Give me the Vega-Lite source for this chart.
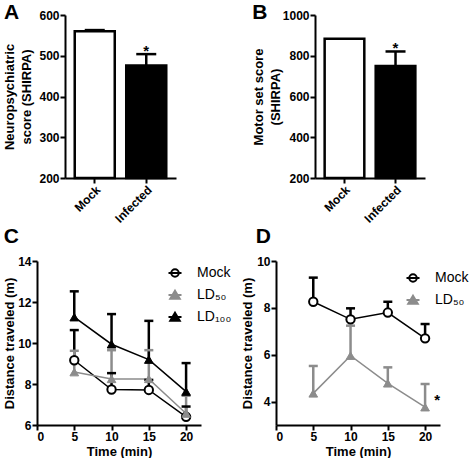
{
  "$schema": "https://vega.github.io/schema/vega-lite/v6.json",
  "padding": {"left": 2, "top": 2, "right": 0, "bottom": 0},
  "background": "white",
  "datasets": {
    "A": [
      {"cond": "Mock", "mean": 560, "upper": 563},
      {"cond": "Infected", "mean": 476, "upper": 504}
    ],
    "B": [
      {"cond": "Mock", "mean": 883, "upper": 885},
      {"cond": "Infected", "mean": 750, "upper": 821}
    ],
    "C": [
      {"group": "Mock", "time": 5, "mean": 9.16, "upper": 10.63},
      {"group": "Mock", "time": 10, "mean": 7.73, "upper": 8.53},
      {"group": "Mock", "time": 15, "mean": 7.71, "upper": 8.2},
      {"group": "Mock", "time": 20, "mean": 6.4, "upper": 6.9},
      {"group": "LD₅₀", "time": 5, "mean": 8.58, "upper": 9.62},
      {"group": "LD₅₀", "time": 10, "mean": 8.25, "upper": 9.65},
      {"group": "LD₅₀", "time": 15, "mean": 8.25, "upper": 9.65},
      {"group": "LD₅₀", "time": 20, "mean": 6.56, "upper": 7.43},
      {"group": "LD₁₀₀", "time": 5, "mean": 11.26, "upper": 12.52},
      {"group": "LD₁₀₀", "time": 10, "mean": 9.94, "upper": 11.41},
      {"group": "LD₁₀₀", "time": 15, "mean": 9.19, "upper": 11.08},
      {"group": "LD₁₀₀", "time": 20, "mean": 7.63, "upper": 9.02}
    ],
    "D": [
      {"group": "Mock", "time": 5, "mean": 8.26, "upper": 9.29},
      {"group": "Mock", "time": 10, "mean": 7.51, "upper": 7.98},
      {"group": "Mock", "time": 15, "mean": 7.8, "upper": 8.26},
      {"group": "Mock", "time": 20, "mean": 6.7, "upper": 7.31},
      {"group": "LD₅₀", "time": 5, "mean": 4.35, "upper": 5.52},
      {"group": "LD₅₀", "time": 10, "mean": 5.96, "upper": 7.24},
      {"group": "LD₅₀", "time": 15, "mean": 4.78, "upper": 5.46},
      {"group": "LD₅₀", "time": 20, "mean": 3.76, "upper": 4.75}
    ]
  },
  "vconcat": [
    {
      "hconcat": [
        {"width": 1, "height": 1, "data": {"name": "A"}, "mark": {"type": "text", "text": ""}, "encoding": {}},
        {
          "hconcat": [
            {
              "width": 111, "height": 163,
              "title": {"text": "A", "offset": -14},
              "data": {"name": "A"},
              "encoding": {
                "x": {"field": "cond", "type": "nominal", "sort": ["Mock", "Infected"],
                      "scale": {"paddingInner": 0.223, "paddingOuter": 0.189},
                      "axis": {"title": null, "labelAngle": -45}}
              },
              "layer": [
                {"mark": {"type": "bar", "stroke": "black", "strokeWidth": 2.5},
                 "encoding": {
                   "y": {"field": "mean", "type": "quantitative", "scale": {"domain": [200, 600]},
                         "axis": {"title": ["Neuropsychiatric", "score (SHIRPA)"], "values": [200, 300, 400, 500, 600], "titlePadding": 5, "titleLineHeight": 17}},
                   "y2": {"datum": 200},
                   "fill": {"field": "cond", "type": "nominal", "scale": {"domain": ["Mock", "Infected"], "range": ["white", "black"]}, "legend": null}
                 }},
                {"mark": {"type": "rule", "strokeWidth": 2.5, "color": "black"},
                 "encoding": {"y": {"field": "mean", "type": "quantitative"}, "y2": {"field": "upper"}}},
                {"mark": {"type": "tick", "orient": "horizontal", "thickness": 2.5, "size": 20, "color": "black", "opacity": 1},
                 "encoding": {"y": {"field": "upper", "type": "quantitative"}}},
                {"transform": [{"filter": "datum.cond === 'Infected'"}],
                 "mark": {"type": "text", "text": "*", "dy": 2, "fontSize": 15, "fontWeight": "bold", "baseline": "alphabetic", "color": "black"},
                 "encoding": {"y": {"field": "upper", "type": "quantitative"}}}
              ]
            },
            {
              "width": 110, "height": 163,
              "title": {"text": "B", "offset": -14},
              "data": {"name": "B"},
              "encoding": {
                "x": {"field": "cond", "type": "nominal", "sort": ["Mock", "Infected"],
                      "scale": {"paddingInner": 0.223, "paddingOuter": 0.189},
                      "axis": {"title": null, "labelAngle": -45}}
              },
              "layer": [
                {"mark": {"type": "bar", "stroke": "black", "strokeWidth": 2.5},
                 "encoding": {
                   "y": {"field": "mean", "type": "quantitative", "scale": {"domain": [200, 1000]},
                         "axis": {"title": ["Motor set score", "(SHIRPA)"], "values": [200, 400, 600, 800, 1000], "format": "d", "titlePadding": 0, "titleLineHeight": 17}},
                   "y2": {"datum": 200},
                   "fill": {"field": "cond", "type": "nominal", "scale": {"domain": ["Mock", "Infected"], "range": ["white", "black"]}, "legend": null}
                 }},
                {"transform": [{"filter": "datum.cond === 'Infected'"}],
                 "mark": {"type": "rule", "strokeWidth": 2.5, "color": "black"},
                 "encoding": {"y": {"field": "mean", "type": "quantitative"}, "y2": {"field": "upper"}}},
                {"transform": [{"filter": "datum.cond === 'Infected'"}],
                 "mark": {"type": "tick", "orient": "horizontal", "thickness": 2.5, "size": 20, "color": "black", "opacity": 1},
                 "encoding": {"y": {"field": "upper", "type": "quantitative"}}},
                {"transform": [{"filter": "datum.cond === 'Infected'"}],
                 "mark": {"type": "text", "text": "*", "dy": 2, "fontSize": 15, "fontWeight": "bold", "baseline": "alphabetic", "color": "black"},
                 "encoding": {"y": {"field": "upper", "type": "quantitative"}}}
              ]
            }
          ],
          "spacing": 76,
          "resolve": {"scale": {"fill": "independent"}, "legend": {"fill": "independent"}}
        }
      ],
      "spacing": 0,
      "resolve": {"scale": {"fill": "independent"}, "legend": {"fill": "independent"}}
    },
    {
      "hconcat": [
        {"width": 1, "height": 1, "data": {"name": "C"}, "mark": {"type": "text", "text": ""}, "encoding": {}},
        {
          "hconcat": [
            {
              "width": 164, "height": 164,
              "title": {"text": "C", "offset": 8},
              "data": {"name": "C"},
              "encoding": {
                "x": {"field": "time", "type": "quantitative", "scale": {"domain": [0, 22]},
                      "axis": {"title": "Time (min)", "values": [0, 5, 10, 15, 20], "titlePadding": 3}},
                "y": {"field": "mean", "type": "quantitative", "scale": {"domain": [6, 14]},
                      "axis": {"title": "Distance traveled (m)", "values": [6, 8, 10, 12, 14], "titlePadding": 1}}
              },
              "layer": [
                {"mark": {"type": "line", "strokeWidth": 1.5},
                 "encoding": {
                   "color": {"field": "group", "type": "nominal",
                             "scale": {"domain": ["LD₁₀₀", "LD₅₀", "Mock"], "range": ["black", "#8c8c8c", "black"]},
                             "legend": null}
                 }},
                {"mark": {"type": "rule", "strokeWidth": 2.5},
                 "encoding": {"y2": {"field": "upper"}, "color": {"field": "group", "type": "nominal"}}},
                {"mark": {"type": "tick", "orient": "horizontal", "thickness": 2.5, "size": 9, "opacity": 1},
                 "encoding": {"y": {"field": "upper", "type": "quantitative"}, "color": {"field": "group", "type": "nominal"}}},
                {"transform": [{"filter": "datum.group === 'Mock'"}],
                 "mark": {"type": "point", "shape": "circle", "size": 70, "strokeWidth": 2, "filled": false, "fill": "white", "stroke": "black", "opacity": 1}},
                {"transform": [{"filter": "datum.group === 'LD₅₀'"}],
                 "mark": {"type": "point", "shape": "triangle-up", "size": 75, "strokeWidth": 1, "filled": true, "fill": "#8c8c8c", "stroke": "#8c8c8c", "opacity": 1}},
                {"transform": [{"filter": "datum.group === 'LD₁₀₀'"}],
                 "mark": {"type": "point", "shape": "triangle-up", "size": 75, "strokeWidth": 1, "filled": true, "fill": "black", "stroke": "black", "opacity": 1}},
                {"transform": [{"filter": "false"}],
                 "mark": {"type": "point", "size": 100, "strokeWidth": 2, "filled": true, "opacity": 1},
                 "encoding": {
                   "shape": {"field": "group", "type": "nominal",
                             "scale": {"domain": ["Mock", "LD₅₀", "LD₁₀₀"], "range": ["M-1.3,0H1.3M0.75,0A0.75,0.75,0,1,1,-0.75,0A0.75,0.75,0,1,1,0.75,0Z", "M-1.3,0H1.3M0,-0.85L0.95,0.75L-0.95,0.75Z", "M-1.3,0H1.3M0,-0.85L0.95,0.75L-0.95,0.75Z"]},
                             "legend": {"orient": "none", "legendX": 131, "legendY": 5, "title": null, "padding": 0, "labelFont": "Liberation Sans", "labelFontSize": 14, "labelColor": "black", "rowPadding": 5, "labelOffset": 15, "symbolStrokeWidth": 2, "symbolOpacity": 1}},
                   "fill": {"field": "group", "type": "nominal",
                            "scale": {"domain": ["Mock", "LD₅₀", "LD₁₀₀"], "range": ["white", "#8c8c8c", "black"]},
                            "legend": {"orient": "none", "legendX": 131, "legendY": 5, "title": null, "padding": 0, "labelFont": "Liberation Sans", "labelFontSize": 14, "labelColor": "black", "rowPadding": 5, "labelOffset": 15, "symbolStrokeWidth": 2, "symbolOpacity": 1}},
                   "stroke": {"field": "group", "type": "nominal",
                              "scale": {"domain": ["Mock", "LD₅₀", "LD₁₀₀"], "range": ["black", "#8c8c8c", "black"]},
                              "legend": {"orient": "none", "legendX": 131, "legendY": 5, "title": null, "padding": 0, "labelFont": "Liberation Sans", "labelFontSize": 14, "labelColor": "black", "rowPadding": 5, "labelOffset": 15, "symbolStrokeWidth": 2, "symbolOpacity": 1}}
                 }}
              ]
            },
            {
              "width": 164, "height": 164,
              "title": {"text": "D", "offset": 8, "dx": 14},
              "data": {"name": "D"},
              "encoding": {
                "x": {"field": "time", "type": "quantitative", "scale": {"domain": [0, 22]},
                      "axis": {"title": "Time (min)", "values": [0, 5, 10, 15, 20], "titlePadding": 3}},
                "y": {"field": "mean", "type": "quantitative", "scale": {"domain": [3, 10]},
                      "axis": {"title": "Distance traveled (m)", "values": [4, 6, 8, 10], "titlePadding": 2}}
              },
              "layer": [
                {"mark": {"type": "line", "strokeWidth": 1.5},
                 "encoding": {
                   "color": {"field": "group", "type": "nominal",
                             "scale": {"domain": ["LD₅₀", "Mock"], "range": ["#8c8c8c", "black"]},
                             "legend": null}
                 }},
                {"mark": {"type": "rule", "strokeWidth": 2.5},
                 "encoding": {"y2": {"field": "upper"}, "color": {"field": "group", "type": "nominal"}}},
                {"mark": {"type": "tick", "orient": "horizontal", "thickness": 2.5, "size": 9, "opacity": 1},
                 "encoding": {"y": {"field": "upper", "type": "quantitative"}, "color": {"field": "group", "type": "nominal"}}},
                {"transform": [{"filter": "datum.group === 'Mock'"}],
                 "mark": {"type": "point", "shape": "circle", "size": 70, "strokeWidth": 2, "filled": false, "fill": "white", "stroke": "black", "opacity": 1}},
                {"transform": [{"filter": "datum.group === 'LD₅₀'"}],
                 "mark": {"type": "point", "shape": "triangle-up", "size": 75, "strokeWidth": 1, "filled": true, "fill": "#8c8c8c", "stroke": "#8c8c8c", "opacity": 1}},
                {"transform": [{"filter": "false"}],
                 "mark": {"type": "point", "size": 100, "strokeWidth": 2, "filled": true, "opacity": 1},
                 "encoding": {
                   "shape": {"field": "group", "type": "nominal",
                             "scale": {"domain": ["Mock", "LD₅₀"], "range": ["M-1.3,0H1.3M0.75,0A0.75,0.75,0,1,1,-0.75,0A0.75,0.75,0,1,1,0.75,0Z", "M-1.3,0H1.3M0,-0.85L0.95,0.75L-0.95,0.75Z"]},
                             "legend": {"orient": "none", "legendX": 130, "legendY": 10, "title": null, "padding": 0, "labelFont": "Liberation Sans", "labelFontSize": 14, "labelColor": "black", "rowPadding": 5, "labelOffset": 15, "symbolStrokeWidth": 2, "symbolOpacity": 1}},
                   "fill": {"field": "group", "type": "nominal",
                            "scale": {"domain": ["Mock", "LD₅₀"], "range": ["white", "#8c8c8c"]},
                            "legend": {"orient": "none", "legendX": 130, "legendY": 10, "title": null, "padding": 0, "labelFont": "Liberation Sans", "labelFontSize": 14, "labelColor": "black", "rowPadding": 5, "labelOffset": 15, "symbolStrokeWidth": 2, "symbolOpacity": 1}},
                   "stroke": {"field": "group", "type": "nominal",
                              "scale": {"domain": ["Mock", "LD₅₀"], "range": ["black", "#8c8c8c"]},
                              "legend": {"orient": "none", "legendX": 130, "legendY": 10, "title": null, "padding": 0, "labelFont": "Liberation Sans", "labelFontSize": 14, "labelColor": "black", "rowPadding": 5, "labelOffset": 15, "symbolStrokeWidth": 2, "symbolOpacity": 1}}
                 }},
                {"transform": [{"filter": "datum.group === 'LD₅₀' && datum.time === 20"}],
                 "mark": {"type": "text", "text": "*", "dx": 12, "dy": -2, "fontSize": 15, "fontWeight": "bold", "baseline": "alphabetic", "color": "black"},
                 "encoding": {}}
              ]
            }
          ],
          "spacing": 9,
          "resolve": {
            "scale": {"color": "independent", "fill": "independent", "stroke": "independent", "shape": "independent"},
            "legend": {"color": "independent", "fill": "independent", "stroke": "independent", "shape": "independent"}
          }
        }
      ],
      "spacing": 0,
      "resolve": {
        "scale": {"color": "independent", "fill": "independent", "stroke": "independent", "shape": "independent"},
        "legend": {"color": "independent", "fill": "independent", "stroke": "independent", "shape": "independent"}
      }
    }
  ],
  "spacing": 1,
  "resolve": {
    "scale": {"color": "independent", "fill": "independent", "stroke": "independent", "shape": "independent"},
    "legend": {"color": "independent", "fill": "independent", "stroke": "independent", "shape": "independent"}
  },
  "config": {
    "view": {"stroke": null},
    "font": "Liberation Sans",
    "axis": {
      "domainColor": "black", "domainWidth": 2, "tickColor": "black", "tickWidth": 2, "tickSize": 5,
      "labelFont": "Liberation Sans", "labelFontSize": 12, "labelFontWeight": "bold", "labelColor": "black", "labelPadding": 1,
      "titleFont": "Liberation Sans", "titleFontSize": 13, "titleFontWeight": "bold", "titleColor": "black", "grid": false
    },
    "title": {"font": "Liberation Sans", "fontSize": 21, "fontWeight": "bold", "anchor": "start", "frame": "bounds", "color": "black", "baseline": "alphabetic"}
  }
}
